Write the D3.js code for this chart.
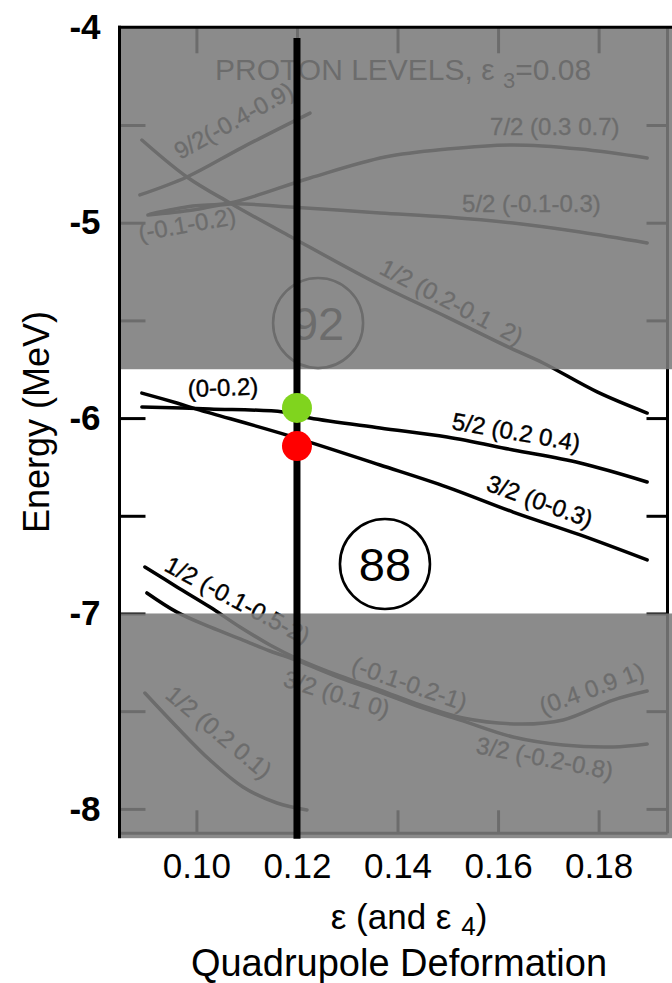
<!DOCTYPE html>
<html>
<head>
<meta charset="utf-8">
<script src="https://cdn.jsdelivr.net/npm/d3@7"></script>
<style>
  html, body { margin: 0; padding: 0; background: #fff; }
  svg { display: block; font-family: "Liberation Sans", Arial, Helvetica, sans-serif; }
</style>
</head>
<body>
<svg id="chart" width="672" height="983"></svg>
<script>
// ---- axis ticks ----
const epsTicks = [0.10, 0.12, 0.14, 0.16, 0.18];
const energyTicks = [-4, -5, -6, -7, -8];
const innerEnergyTicks = [-4.5, -5, -5.5, -6, -6.5, -7, -7.5, -8];

// ---- Nilsson proton levels: deformation ε and single-particle energy (MeV) ----
const eps92 = [0.08876, 0.09811, 0.10925, 0.12259];
const e92   = [-4.858, -4.766, -4.613, -4.439];

const eps12a = [0.08915, 0.09811, 0.10667, 0.11920, 0.13652, 0.14985, 0.16239, 0.16896, 0.17970, 0.18965];
const e12a   = [-4.577, -4.766, -4.899, -5.078, -5.319, -5.483, -5.641, -5.718, -5.866, -5.974];

const eps72 = [0.09075, 0.09930, 0.10667, 0.12259, 0.13751, 0.14985, 0.16299, 0.17632, 0.18965];
const e72   = [-4.956, -4.915, -4.899, -4.771, -4.664, -4.623, -4.602, -4.623, -4.669];

const eps52g = [0.09035, 0.09930, 0.10667, 0.11861, 0.13652, 0.14985, 0.16299, 0.17632, 0.18965];
const e52g   = [-4.961, -4.935, -4.904, -4.920, -4.950, -4.971, -5.002, -5.048, -5.104];

const eps52b = [0.08915, 0.10269, 0.11721, 0.12259, 0.13652, 0.14985, 0.16299, 0.17632, 0.18965];
const e52b   = [-5.943, -5.953, -5.969, -6.000, -6.051, -6.097, -6.163, -6.230, -6.327];

const eps32b = [0.08915, 0.09612, 0.10070, 0.11801, 0.13652, 0.14985, 0.16299, 0.17632, 0.18965];
const e32b   = [-5.872, -5.923, -5.959, -6.087, -6.240, -6.353, -6.481, -6.598, -6.726];

const eps12b = [0.08975, 0.09612, 0.10269, 0.10866, 0.11463, 0.12020, 0.12856, 0.13652, 0.14448, 0.15303, 0.16438, 0.17294, 0.18289, 0.18965];
const e12b   = [-6.762, -6.864, -6.967, -7.069, -7.161, -7.233, -7.320, -7.392, -7.468, -7.535, -7.566, -7.545, -7.443, -7.397];

const eps32c = [0.09015, 0.09612, 0.10269, 0.10925, 0.11463, 0.12020, 0.12856, 0.13652, 0.14448, 0.15303, 0.16299, 0.17294, 0.18289, 0.18965];
const e32c   = [-6.895, -6.993, -7.069, -7.136, -7.192, -7.243, -7.330, -7.402, -7.479, -7.550, -7.632, -7.673, -7.683, -7.668];

const eps12c = [0.08975, 0.09612, 0.10269, 0.10925, 0.11602, 0.12199];
const e12c   = [-7.407, -7.581, -7.750, -7.888, -7.970, -8.006];

const levels = [
  [eps92, e92], [eps12a, e12a], [eps72, e72], [eps52g, e52g],
  [eps52b, e52b], [eps32b, e32b], [eps12b, e12b], [eps32c, e32c], [eps12c, e12c]
];

// orbital labels anchored at (ε, E)
const levelLabels = [
  { text: "9/2(-0.4-0.9)",          eps: 0.09672, e: -4.679, rot: -29 },
  { text: "(-0.1-0.2)",             eps: 0.08876, e: -5.094, rot: -10 },
  { text: "7/2 (0.3 0.7)",          eps: 0.15841, e: -4.551, rot: 0 },
  { text: "5/2 (-0.1-0.3)",         eps: 0.15284, e: -4.945, rot: 0 },
  { text: "1/2 (0.2-0.1\u00a0 2)",  eps: 0.13612, e: -5.257, rot: 27.5 },
  { text: "(0-0.2)",                eps: 0.09831, e: -5.892, rot: -2 },
  { text: "5/2 (0.2 0.4)",          eps: 0.15065, e: -6.056, rot: 10 },
  { text: "3/2 (0-0.3)",            eps: 0.15741, e: -6.368, rot: 20 },
  { text: "1/2 (-0.1-0.5-2)",       eps: 0.09333, e: -6.778, rot: 28 },
  { text: "3/2 (0.1 0)",            eps: 0.11701, e: -7.371, rot: 17 },
  { text: "(-0.1-0.2-1)",           eps: 0.13055, e: -7.299, rot: 19 },
  { text: "(0.4 0.9 1)",            eps: 0.16896, e: -7.520, rot: -20 },
  { text: "3/2 (-0.2-0.8)",         eps: 0.15542, e: -7.714, rot: 11 },
  { text: "1/2 (0.2 0.1)",          eps: 0.09354, e: -7.427, rot: 40 }
];

// shell-gap particle numbers
const gapNumbers = ["92", "88"];
const gapEps = [0.1242, 0.1375];
const gapE = [-5.513, -6.747];

// highlighted energy window left clear; shaded outside
const shadeBands = [[-4.0, -5.75], [-7.0, -8.15]];

// chosen deformation and the two levels it cuts
const markerEps = 0.12;
const markerSpan = [-4.055, -8.153];
const dotE = [-5.948, -6.143];
const dotColors = ["#80d41e", "#ff0000"];

const W = 672, H = 983;
const x = d3.scaleLinear().domain([0.0847, 0.1937]).range([119.5, 667.5]);
const y = d3.scaleLinear().domain([-4, -8.125]).range([27.3, 833.3]);
const [frameL, frameR] = x.range();
const [frameT, frameB] = y.range();

const svg = d3.select("#chart");
const base = svg.append("g");

// frame (right and bottom edges)
base.append("line").attr("x1", frameR).attr("x2", frameR).attr("y1", frameT).attr("y2", frameB)
  .attr("stroke", "#000").attr("stroke-width", 3);
base.append("line").attr("x1", frameL).attr("x2", frameR).attr("y1", frameB).attr("y2", frameB)
  .attr("stroke", "#000").attr("stroke-width", 3);

// inner tick marks on all four sides
function innerTicks(g) {
  g.select(".domain").remove();
  g.selectAll(".tick line").attr("stroke", "#000").attr("stroke-width", 3);
  g.selectAll(".tick text").remove();
}
base.append("g").attr("transform", `translate(${frameL},0)`)
  .call(d3.axisRight(y).tickValues(innerEnergyTicks).tickSize(26)).call(innerTicks);
base.append("g").attr("transform", `translate(${frameR},0)`)
  .call(d3.axisLeft(y).tickValues(innerEnergyTicks).tickSize(21)).call(innerTicks);
base.append("g").attr("transform", `translate(0,${frameT})`)
  .call(d3.axisBottom(x).tickValues(epsTicks).tickSize(26)).call(innerTicks);
base.append("g").attr("transform", `translate(0,${frameB})`)
  .call(d3.axisTop(x).tickValues(epsTicks).tickSize(23)).call(innerTicks);

// level curves
const line = d3.line().x(d => x(d[0])).y(d => y(d[1])).curve(d3.curveCatmullRom.alpha(0.5));
base.append("g").selectAll("path").data(levels).join("path")
  .attr("d", d => line(d3.zip(d[0], d[1])))
  .attr("fill", "none").attr("stroke", "#000").attr("stroke-width", 3.5)
  .attr("stroke-linecap", "round").attr("stroke-linejoin", "round");

// title inside the diagram
const title = base.append("text")
  .attr("x", x(0.1037)).attr("y", y(-4.2697))
  .attr("font-size", 30).attr("fill", "#000");
title.append("tspan").text("PROTON LEVELS, \u03b5 ");
title.append("tspan").attr("font-size", 22).attr("dy", 8).text("3");
title.append("tspan").attr("dy", -8).text("=0.08");

// orbital labels
base.append("g").selectAll("text").data(levelLabels).join("text")
  .attr("transform", d => `translate(${x(d.eps)},${y(d.e)}) rotate(${d.rot})`)
  .attr("font-size", 24).attr("fill", "#000")
  .attr("stroke", "#000").attr("stroke-width", 0.4)
  .style("white-space", "pre")
  .text(d => d.text);

// circled gap numbers
const gaps = base.append("g").selectAll("g").data(gapNumbers).join("g")
  .attr("transform", (d, i) => `translate(${x(gapEps[i])},${y(gapE[i])})`);
gaps.append("circle").attr("r", 45).attr("fill", "none").attr("stroke", "#000").attr("stroke-width", 2.6);
gaps.append("text").attr("text-anchor", "middle").attr("dy", "0.36em")
  .attr("font-size", 47).attr("fill", "#000").text(d => d);

// grey shading outside the energy window
svg.append("g").selectAll("rect").data(shadeBands).join("rect")
  .attr("x", frameL + 1.5).attr("width", W - frameL - 1.5)
  .attr("y", d => y(d[0])).attr("height", d => y(d[1]) - y(d[0]))
  .attr("fill", "rgb(123,123,123)").attr("fill-opacity", 0.88);

// left and top frame edges
svg.append("line").attr("x1", frameL).attr("x2", frameL).attr("y1", frameT - 1.5).attr("y2", y(-8.15))
  .attr("stroke", "#000").attr("stroke-width", 3);
svg.append("line").attr("x1", frameL - 1.5).attr("x2", W).attr("y1", frameT).attr("y2", frameT)
  .attr("stroke", "#000").attr("stroke-width", 3);

// marker at the chosen deformation
svg.append("line")
  .attr("x1", x(markerEps)).attr("x2", x(markerEps))
  .attr("y1", y(markerSpan[0])).attr("y2", y(markerSpan[1]))
  .attr("stroke", "#000").attr("stroke-width", 7);
svg.append("g").selectAll("circle").data(dotE).join("circle")
  .attr("cx", x(markerEps)).attr("cy", d => y(d)).attr("r", 15)
  .attr("fill", (d, i) => dotColors[i]);

// outer axis labels
const yAxis = svg.append("g").attr("transform", `translate(${frameL},0)`)
  .call(d3.axisLeft(y).tickValues(energyTicks).tickSize(0).tickPadding(19).tickFormat(d => String(d)));
yAxis.select(".domain").remove();
yAxis.selectAll("text").attr("font-size", 35).attr("font-weight", "bold")
  .attr("font-family", "'Liberation Sans', Arial, sans-serif").attr("fill", "#000");

const xAxis = svg.append("g").attr("transform", `translate(0,${frameB})`)
  .call(d3.axisBottom(x).tickValues(epsTicks).tickSize(0).tickPadding(20).tickFormat(d3.format(".2f")));
xAxis.select(".domain").remove();
xAxis.selectAll("text").attr("font-size", 35)
  .attr("font-family", "'Liberation Sans', Arial, sans-serif").attr("fill", "#000");

// axis titles
svg.append("text")
  .attr("transform", "translate(49,422) rotate(-90)")
  .attr("text-anchor", "middle").attr("font-size", 36).attr("fill", "#000")
  .text("Energy (MeV)");

const xt = svg.append("text").attr("x", 409).attr("y", 929)
  .attr("text-anchor", "middle").attr("font-size", 35).attr("fill", "#000");
xt.append("tspan").text("\u03b5 (and \u03b5 ");
xt.append("tspan").attr("font-size", 26).attr("dy", 6).text("4");
xt.append("tspan").attr("dy", -6).text(")");

svg.append("text").attr("x", 399).attr("y", 976)
  .attr("text-anchor", "middle").attr("font-size", 38).attr("fill", "#000")
  .text("Quadrupole Deformation");
</script>
</body>
</html>
